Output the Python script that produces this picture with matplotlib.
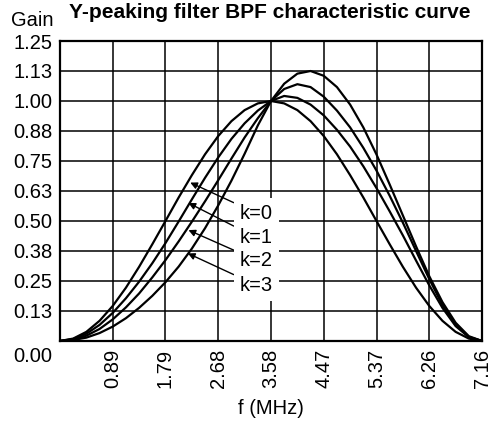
import numpy as np
import matplotlib
matplotlib.use("Agg")
import matplotlib.pyplot as plt
import matplotlib.transforms as mtransforms

plt.rcParams['font.family'] = ['Liberation Sans', 'DejaVu Sans']

# frequency samples (MHz), 0 .. 7.16 in 32 steps
freq = np.linspace(0, 7.16, 33)

# gain, one list per k
gain_k0 = [0, 0.010, 0.038, 0.084, 0.146, 0.222, 0.309, 0.403, 0.500, 0.598, 0.691,
           0.778, 0.854, 0.916, 0.962, 0.990, 1.000, 0.990, 0.962, 0.916, 0.854, 0.778,
           0.691, 0.598, 0.500, 0.403, 0.309, 0.222, 0.146, 0.084, 0.038, 0.010, 0]
gain_k1 = [0, 0.008, 0.030, 0.067, 0.117, 0.178, 0.247, 0.324, 0.408, 0.498, 0.590,
           0.680, 0.765, 0.842, 0.907, 0.960, 1.000, 1.021, 1.013, 0.985, 0.940, 0.880,
           0.810, 0.728, 0.637, 0.540, 0.440, 0.335, 0.232, 0.138, 0.062, 0.016, 0]
gain_k2 = [0, 0.006, 0.022, 0.050, 0.090, 0.140, 0.198, 0.265, 0.337, 0.415, 0.497,
           0.582, 0.670, 0.760, 0.848, 0.928, 1.000, 1.050, 1.070, 1.058, 1.018, 0.960,
           0.890, 0.805, 0.710, 0.605, 0.493, 0.375, 0.258, 0.150, 0.067, 0.017, 0]
gain_k3 = [0, 0.004, 0.014, 0.033, 0.060, 0.095, 0.138, 0.188, 0.245, 0.310, 0.385,
           0.470, 0.565, 0.668, 0.780, 0.898, 1.000, 1.072, 1.114, 1.125, 1.105, 1.058,
           0.985, 0.890, 0.777, 0.652, 0.523, 0.394, 0.270, 0.162, 0.076, 0.020, 0]

curve_labels = ['k=0', 'k=1', 'k=2', 'k=3']

x_ticks = [0.895, 1.79, 2.685, 3.58, 4.475, 5.37, 6.265, 7.16]
x_tick_labels = ['0.89', '1.79', '2.68', '3.58', '4.47', '5.37', '6.26', '7.16']
y_ticks = [0, 0.125, 0.25, 0.375, 0.5, 0.625, 0.75, 0.875, 1.0, 1.125, 1.25]
y_tick_labels = ['0.00', '0.13', '0.25', '0.38', '0.50', '0.63', '0.75', '0.88',
                 '1.00', '1.13', '1.25']

# arrow tips on each curve and label anchor (data coords)
arrow_tips = [(2.21, 0.66), (2.18, 0.575), (2.18, 0.462), (2.17, 0.365)]
label_pos = [(3.05, 0.533), (3.05, 0.431), (3.05, 0.337), (3.05, 0.233)]

fig = plt.figure(figsize=(4.9, 4.24), dpi=100)
ax = fig.add_axes([0.1224, 0.1958, 0.8613, 0.7075])

for g in [gain_k0, gain_k1, gain_k2, gain_k3]:
    ax.plot(freq, g, color='black', linewidth=1.6, zorder=3,
            solid_capstyle='round', solid_joinstyle='round')

ax.set_xlim(0, 7.16)
ax.set_ylim(0, 1.25)
ax.set_xticks(x_ticks)
ax.set_xticklabels(x_tick_labels, rotation=90, fontsize=14.5)
ax.set_yticks(y_ticks)
ax.set_yticklabels(y_tick_labels, fontsize=14.5)
ax.tick_params(length=0, pad=5.5)
ax.grid(True, color='black', linewidth=1.1)
ax.set_axisbelow(True)
for sp in ax.spines.values():
    sp.set_linewidth(1.6)

# the 0.00 label sits below the axis line
lbl0 = ax.get_yticklabels()[0]
lbl0.set_transform(lbl0.get_transform() +
                   mtransforms.ScaledTranslation(0, -0.14, fig.dpi_scale_trans))

for text, tip, pos in zip(curve_labels, arrow_tips, label_pos):
    ax.annotate(text, xy=tip, xytext=pos, fontsize=14.5, va='center', ha='left',
                bbox=dict(boxstyle='square,pad=0.3', fc='white', ec='none'),
                arrowprops=dict(arrowstyle='-|>', color='black', lw=1.0,
                                mutation_scale=10, shrinkA=0, shrinkB=0),
                zorder=4)

ax.set_xlabel('f (MHz)', fontsize=14.5, labelpad=8)
fig.text(0.065, 0.951, 'Gain', fontsize=14.5, ha='center', va='center')
fig.text(0.551, 0.970, 'Y-peaking filter BPF characteristic curve', fontsize=15,
         fontweight='bold', ha='center', va='center')

fig.savefig('out.png', dpi=100)
